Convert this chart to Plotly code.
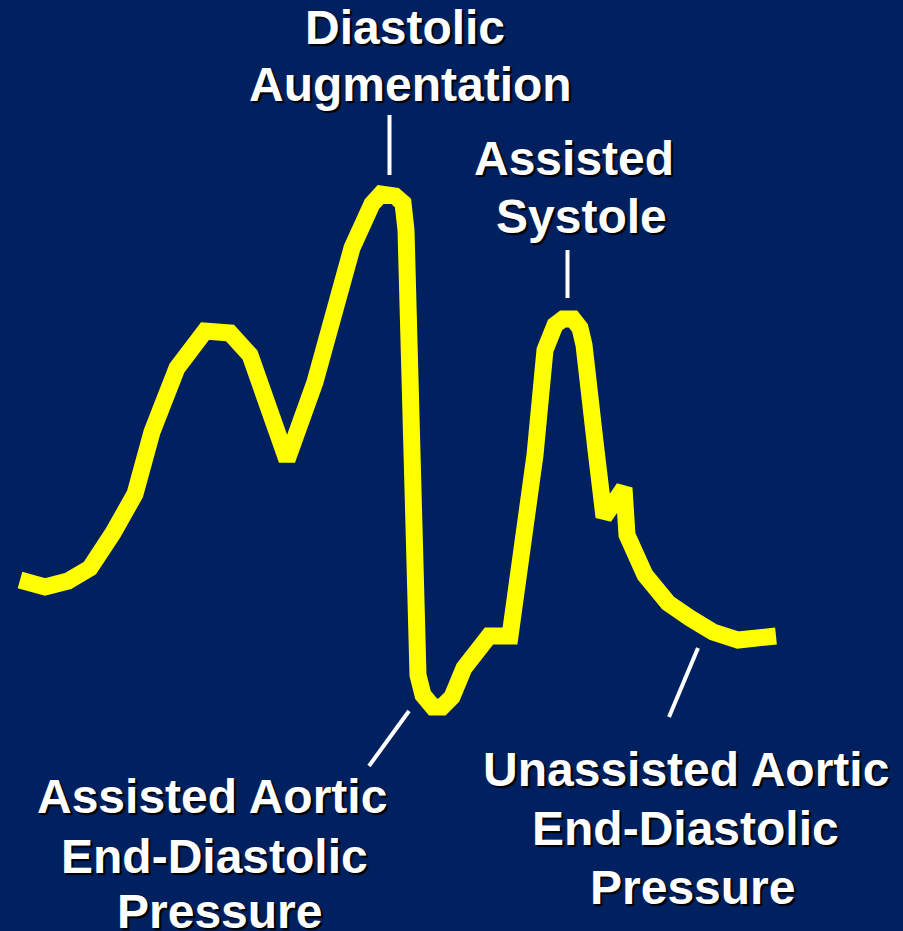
import plotly.graph_objects as go

# Aortic pressure waveform under intra-aortic balloon pump (arbitrary units)
time = [20, 45, 68, 90, 113, 135, 152, 177, 205, 230, 250, 268, 287, 315, 338, 352,
        372, 381, 395, 403, 406, 410, 415, 418, 423, 433, 442, 452, 464, 478, 489,
        510, 522, 535, 545, 555, 563, 573, 580, 584, 596, 604, 624, 627, 645,
        668, 690, 713, 738, 760, 776]
ypix = [580, 587, 581, 568, 533, 494, 432, 368, 331, 333, 355, 402, 460, 382, 302, 248,
        204, 194, 196, 203, 230, 400, 600, 675, 695, 707, 707, 697, 668, 648, 636,
        636, 560, 455, 350, 325, 319, 319, 328, 345, 450, 517, 488, 535, 575,
        603, 618, 632, 640, 640, 636]
pressure = [931 - v for v in ypix]

# label lines: (text, x, y-centre of line)
labels = [
    ("Diastolic", 405, 27), ("Augmentation", 410, 84),
    ("Assisted", 574, 158), ("Systole", 581, 216),
    ("Assisted Aortic", 212, 796), ("End-Diastolic", 214, 856), ("Pressure", 219, 911),
    ("Unassisted Aortic", 686, 769), ("End-Diastolic", 685, 828), ("Pressure", 692, 887),
]
pointers = [((389.5, 115), (389.5, 175)), ((567.5, 250), (567.5, 298)),
            ((409, 711), (369, 766)), ((698, 648), (669, 717))]

fig = go.Figure()
fig.add_trace(go.Scatter(x=time, y=pressure, mode="lines",
                         line=dict(color="#FFFF00", width=17), hoverinfo="skip"))

for t, x, y in labels:
    fig.add_annotation(x=x, y=931 - y, xref="x", yref="y", text=t, showarrow=False,
                       xanchor="center", yanchor="middle",
                       font=dict(family="Liberation Sans, Arial", size=48, color="white",
                                 weight="bold", shadow="2px 2px 1px #000000"))
for (x0, y0), (x1, y1) in pointers:
    fig.add_shape(type="line", x0=x0, y0=931 - y0, x1=x1, y1=931 - y1, xref="x", yref="y",
                  line=dict(color="white", width=4))

fig.update_layout(width=903, height=931, margin=dict(l=0, r=0, t=0, b=0),
                  paper_bgcolor="#002060", plot_bgcolor="#002060", showlegend=False,
                  xaxis=dict(range=[0, 903], visible=False, fixedrange=True),
                  yaxis=dict(range=[0, 931], visible=False, fixedrange=True))
fig.write_html("out.html", config={"displayModeBar": False},
               post_script="document.body.style.margin='0';document.body.style.background='#002060';")
